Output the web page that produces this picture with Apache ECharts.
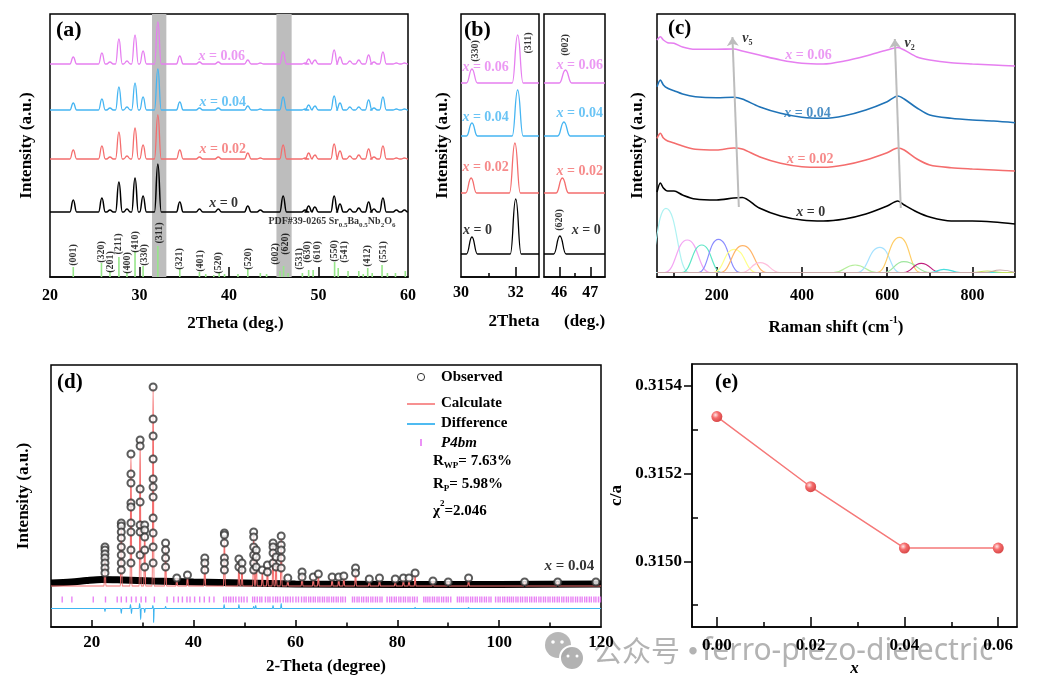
<!DOCTYPE html>
<html>
<head>
<meta charset="utf-8">
<script src="https://cdn.jsdelivr.net/npm/echarts@6/dist/echarts.min.js"></script>
<style>html,body{margin:0;padding:0;background:#fff}#main{width:1038px;height:692px}</style>
</head>
<body>
<div id="main"></div>
<script>
var SERIF = 'Liberation Serif';
var RED = '#f46d6d', SKY = '#45b5f2', PINK = '#e67ff0', DEEPBLUE = '#1f73b7', TICKPINK = '#e363f2';

// ---- (a) XRD patterns, x = 0, 0.02, 0.04, 0.06 ----
var xrdPos = [22.6, 25.8, 26.7, 27.7, 28.6, 29.5, 30.4, 32.05, 34.5, 36.7, 38.8, 42.1, 43.5, 46.05, 48.5, 48.9, 49.6, 51.75, 52.4, 53.5, 54.5, 55.6, 56.2, 57.2, 58.7, 59.6];
var xrdX0 = [12, 14, 2, 30, 3, 34, 16, 48, 10, 3, 3, 6, 2, 16, 2, 6, 5, 16, 8, 3, 4, 10, 3, 14, 2, 2];
var xrdX2 = [9, 13, 2, 27, 3, 31, 14, 44, 9, 2, 2, 6, 1, 14, 1, 6, 4, 15, 8, 3, 4, 10, 2, 13, 1, 1];
var xrdX4 = [7, 11, 2, 23, 3, 27, 13, 41, 8, 2, 2, 4, 1, 13, 1, 5, 4, 14, 7, 3, 3, 10, 2, 13, 1, 1];
var xrdX6 = [7, 11, 2, 25, 3, 29, 13, 42, 8, 2, 2, 4, 1, 12, 1, 5, 4, 14, 7, 3, 4, 9, 2, 12, 1, 1];
var xrdOffset = [65, 118, 167, 213];
var sampleNames = ['0', '0.02', '0.04', '0.06'];

// PDF#39-0265 reference lines
var refPos = [22.6, 25.75, 26.7, 27.7, 28.6, 29.5, 30.4, 32.05, 34.5, 36.7, 37.4, 38.3, 38.9, 39.5, 41.0, 42.1, 43.5, 44.2, 45.7, 46.1, 46.6, 48.2, 48.9, 49.4, 51.8, 52.2, 53.3, 54.5, 55.0, 55.5, 56.0, 57.1, 57.7, 58.6, 59.7];
var refH = [10, 14, 6, 20, 5, 26, 11, 31, 8, 5, 3, 2, 5, 3, 3, 8, 4, 3, 6, 11, 4, 4, 7, 7, 15, 9, 6, 6, 3, 9, 4, 12, 4, 4, 6];
var hklText = ['(001)', '(320)', '(201)', '(211)', '(400)', '(410)', '(330)', '(311)', '(321)', '(401)', '(520)', '(520)', '(002)', '(620)', '(531)', '(630)', '(610)', '(550)', '(541)', '(412)', '(551)'];
var hklPos = [22.6, 25.8, 26.7, 27.6, 28.6, 29.5, 30.5, 32.2, 34.5, 36.8, 38.8, 42.2, 45.15, 46.3, 47.9, 48.8, 49.9, 51.8, 52.85, 55.5, 57.2];
var hklY = [22, 25, 15, 33, 14, 35, 22, 44, 18, 16, 14, 18, 23, 33, 18, 25, 25, 26, 25, 21, 25];
var shadeBands = [[31.4, 33.0], [45.3, 47.0]];

// ---- (b) enlarged (330)/(311) and (002)/(620) ----
var bOffset = [23, 84, 141, 194];
var b330Pos = [30.4, 30.37, 30.4, 30.4];
var b330H = [17, 15, 13, 14];
var b311Pos = [32.0, 31.97, 32.07, 32.07];
var b311H = [55, 50, 46, 48];
var b620Pos = [46.02, 46.1, 46.15, 46.2];
var b620H = [18, 15, 14, 13];

// ---- (c) Raman spectra ----
var ramanX = [60, 68, 75, 85, 100, 120, 150, 200, 240, 260, 300, 350, 400, 450, 500, 550, 600, 625, 640, 670, 700, 750, 800, 850, 900];
var raman0 = [85, 94, 89, 86, 86, 82, 78, 77, 79, 79.5, 69, 61, 57, 56, 58, 63, 71, 76, 72, 65, 60, 56, 56, 55, 53];
var raman2 = [138.7, 143.7, 139, 136, 134, 131, 127.7, 127, 129, 128, 120.3, 113.7, 110.3, 109.7, 112, 117, 124.3, 129, 127, 118, 112, 109.3, 108, 107, 106];
var raman4 = [190.3, 197, 192, 188.7, 186.3, 183, 180.3, 179.3, 179.7, 178, 170.3, 163.7, 159.7, 158.7, 161.3, 167, 175.3, 181, 178, 169, 162, 158.7, 157, 156, 154.3];
var raman6 = [237, 240.3, 237, 234.3, 233.7, 230, 227.7, 227.7, 228, 226, 222, 217, 213.7, 213, 216, 221, 227, 229.5, 227, 220, 217, 214.3, 213, 212, 211];
// fitted bands of x = 0: [left foot, centre, right foot, top]
var fitPeaks = [[35, 81, 135, 68.7], [78, 131, 184, 37], [118, 165, 212, 32], [157, 204, 255, 37.7], [192, 241, 294, 27.7], [208, 261, 318, 31.3], [259, 302, 349, 14.3], [474, 525, 576, 12], [529, 583, 631, 29.7], [576, 629, 678, 39.7], [592, 639, 702, 15.3], [639, 680, 725, 13.7], [702, 733, 772, 7.7], [800, 835, 870, 6], [830, 865, 900, 7]];
var fitColors = ['#aef2f2', '#f3a6f3', '#5ee6c6', '#8a8cff', '#ffff8a', '#ffb56a', '#ffbfdc', '#b6ee9c', '#a6e2ff', '#ffcd66', '#9fe69f', '#c0207e', '#48dede', '#c4e060', '#c8a8a8'];
var fitBase = 4.5;

// ---- (d) Rietveld refinement, x = 0.04 ----
var obsBackground = [[12, 44], [16, 45], [19, 46.5], [22, 47.5], [26, 47], [32, 46], [40, 45], [50, 44], [60, 43], [80, 42.5], [100, 42.5], [120, 43]];
var obsPeaks = [
  [22.6, [80, 77, 73, 69, 64, 59, 54]], [25.8, [104, 101, 95, 89, 80, 72, 64, 57]],
  [27.7, [173, 153, 144, 124, 120, 104, 95, 77, 64]], [29.5, [187, 181, 138, 125, 102, 95, 72]],
  [30.4, [102, 97, 90, 77, 60]], [32.05, [240, 208, 191, 168, 148, 140, 130, 109, 94, 80, 64]],
  [34.5, [84, 77, 69, 60]], [36.7, [49]], [38.8, [52]], [42.2, [69, 64, 57]],
  [46.05, [94, 92, 84, 69, 64, 57]], [48.9, [68, 60]], [49.5, [64, 57]],
  [51.8, [95, 90, 80, 72, 64, 57]], [52.3, [77, 70, 60]], [53.5, [57]], [54.5, [62, 55]],
  [55.6, [84, 80, 74, 64]], [56.2, [70, 60]], [57.2, [91, 82, 77, 69, 59]], [58.5, [49]],
  [61.3, [55, 50]], [63.5, [50]], [64.5, [53]], [67.2, [50]], [68.5, [50]], [69.5, [51]],
  [71.8, [59, 54]], [74.5, [48]], [76.5, [49]], [79.6, [48]], [81.2, [49]], [82.3, [49]],
  [83.5, [54]], [87, [46]], [90, [45]], [94, [49]], [105, [45]], [111.5, [45]], [119, [45]]
];
var calcPos = [22.6, 25.8, 27.7, 29.5, 30.4, 32.05, 34.5, 36.7, 38.8, 42.2, 46.05, 48.9, 49.5, 51.8, 52.3, 53.5, 54.5, 55.6, 56.2, 57.2, 58.5, 61.3, 63.5, 64.5, 67.2, 68.5, 69.5, 71.8, 74.5, 76.5, 79.6, 81.2, 82.3, 83.5, 87, 90, 94, 105, 111.5];
var calcTop = [79, 102, 172, 186, 100, 240, 82, 49, 51, 67, 92, 66, 63, 94, 76, 56, 61, 82, 69, 89, 48, 54, 49, 52, 49, 49, 50, 57, 47, 48, 47, 48, 48, 52, 46, 45, 48, 45, 45];
var calcBase = 41;
var diffPos = [22.6, 25.8, 27.6, 27.8, 29.4, 29.6, 30.4, 32.0, 32.15, 34.5, 46.0, 48.9, 51.8, 52.2, 55.6, 57.2, 83.5, 94];
var diffDy = [-3, -5, 4, -5, 5, -11, -4, 3, -14, 2, 4, 4, 2, 3, 3, 5, 1, 1];
var diffBase = 18.5;
var braggPos = [14.2, 16.1, 20.3, 22.7, 25.0, 25.8, 26.8, 27.8, 28.7, 29.7, 30.6, 32.3, 34.8, 36.1, 37.0, 37.8, 38.7, 39.3, 40.2, 41.2, 42.1, 43.1, 44.0,
  45.9, 46.4, 46.9, 47.3, 47.8, 48.3, 48.9, 49.4, 49.9, 50.5, 51.6, 52.0, 52.5, 53.0, 53.4, 54.1, 54.6, 55.0, 55.6, 56.1, 56.5, 57.0, 57.6, 58.1, 58.5, 59.0, 59.5,
  60.1, 60.6, 61.2, 61.7, 62.1, 62.6, 63.0, 63.5, 63.9, 64.4, 64.8, 65.3, 65.7, 66.2, 66.6, 67.1, 67.5, 68.0, 68.4, 68.9, 69.3, 69.8,
  71.2, 71.6, 72.1, 72.5, 73.0, 73.4, 73.9, 74.3, 74.8, 75.2, 75.7, 76.1, 76.6, 77.0, 78.0, 78.5, 78.9, 79.4, 79.8, 80.3, 80.7, 81.2, 81.6, 82.1, 82.5, 83.0, 83.4, 83.9,
  85.2, 85.6, 86.0, 86.4, 86.9, 87.3, 87.8, 88.2, 88.7, 89.1, 89.6, 90.0, 90.5, 91.8, 92.2, 92.6, 93.0, 93.5, 93.9, 94.4, 94.8, 95.3, 95.7, 96.2, 96.6, 97.1, 97.5, 98.0, 98.4,
  99.3, 99.8, 100.2, 100.7, 101.1, 101.6, 102.0, 102.4, 102.8, 103.3, 103.7, 104.2, 104.6, 105.1, 105.5, 106.0, 106.4, 106.9, 107.3, 107.8, 108.2, 108.7, 109.1, 109.6, 110.0,
  110.5, 110.9, 111.4, 111.8, 112.3, 112.7, 113.2, 113.6, 114.1, 114.5, 115.0, 115.4, 115.9, 116.3, 116.8, 117.2, 117.7, 118.1, 118.6, 119.0, 119.5, 119.9];
var braggLevel = 27.5;

// ---- (e) c/a ratio ----
var caX = [0, 0.02, 0.04, 0.06];
var caY = [0.31533, 0.31517, 0.31503, 0.31503];

// helpers
function peakLine(x0, x1, base, pos, h, w) {
  var d = [[x0, base]];
  for (var i = 0; i < pos.length; i++) {
    d.push([pos[i] - w, base], [pos[i], base + h[i]], [pos[i] + w, base]);
  }
  d.push([x1, base]);
  return d;
}
function lineSeries(xi, yi, data, color, width, z) {
  return {
    type: 'line', xAxisIndex: xi, yAxisIndex: yi, data: data, symbol: 'none',
    smooth: 0.5, smoothMonotone: 'x', silent: true, z: z || 3,
    lineStyle: { color: color, width: width || 1.2 }
  };
}
function richFor(color, size) {
  return {
    i: { fontStyle: 'italic', fontWeight: 'bold', fontFamily: SERIF, fontSize: size, color: color },
    n: { fontWeight: 'bold', fontFamily: SERIF, fontSize: size, color: color }
  };
}
function sampleText(v) { return '{i|x}{n| = ' + v + '}'; }
function textSeries(xi, yi, items, label) {
  var lab = { show: true, position: 'inside', formatter: function (p) { return p.name; } };
  for (var k in label) lab[k] = label[k];
  return {
    type: 'scatter', xAxisIndex: xi, yAxisIndex: yi, symbolSize: 1, silent: true, z: 6,
    itemStyle: { color: 'rgba(0,0,0,0)' },
    data: items.map(function (t) { return { value: [t[0], t[1]], name: t[2] }; }),
    label: lab
  };
}
function xMain(grid, min, max, labels, ticks, tickLen, labelSize, margin, name, nameGap, namePad) {
  return {
    type: 'value', gridIndex: grid, min: min, max: max, position: 'bottom',
    splitLine: { show: false },
    axisLine: { show: true, onZero: false, lineStyle: { color: '#000', width: 1.5 } },
    axisTick: { show: true, inside: true, length: tickLen, customValues: ticks, lineStyle: { color: '#000', width: 1.5 } },
    axisLabel: { show: true, customValues: labels, margin: margin, color: '#000', fontFamily: SERIF, fontWeight: 'bold', fontSize: labelSize },
    name: name, nameLocation: 'middle', nameGap: nameGap,
    nameTextStyle: { color: '#000', fontFamily: SERIF, fontWeight: 'bold', fontSize: 17, padding: namePad || 0 }
  };
}
function xMinor(grid, min, max, ticks, len) {
  return {
    type: 'value', gridIndex: grid, min: min, max: max, position: 'bottom',
    splitLine: { show: false }, axisLine: { show: false, onZero: false }, axisLabel: { show: false },
    axisTick: { show: true, inside: true, length: len, customValues: ticks, lineStyle: { color: '#000', width: 1.5 } }
  };
}
function yHidden(grid, max, name, nameGap) {
  return {
    type: 'value', gridIndex: grid, min: 0, max: max,
    splitLine: { show: false }, axisLine: { show: false, onZero: false }, axisTick: { show: false }, axisLabel: { show: false },
    name: name, nameLocation: 'middle', nameGap: nameGap,
    nameTextStyle: { color: '#000', fontFamily: SERIF, fontWeight: 'bold', fontSize: 17 }
  };
}

var chart = echarts.init(document.getElementById('main'));
var series = [];
var aColors = ['#000000', RED, SKY, PINK];
var cColors = ['#000000', RED, DEEPBLUE, PINK];

// (a)
series.push({
  type: 'line', xAxisIndex: 0, yAxisIndex: 0, data: [[20, -5]], symbol: 'none', z: 1, silent: true,
  lineStyle: { opacity: 0 },
  markArea: {
    silent: true, itemStyle: { color: '#bdbdbd' },
    data: shadeBands.map(function (b) { return [{ xAxis: b[0] }, { xAxis: b[1] }]; })
  }
});
[xrdX0, xrdX2, xrdX4, xrdX6].forEach(function (h, i) {
  series.push(lineSeries(0, 0, peakLine(20, 60, xrdOffset[i], xrdPos, h, 0.38), aColors[i], i === 0 ? 1.5 : 1.3, 3));
});
series.push({
  type: 'bar', xAxisIndex: 0, yAxisIndex: 0, barWidth: 1.6, silent: true, z: 3,
  itemStyle: { color: '#97e68a' },
  data: refPos.map(function (p, i) { return [p, refH[i]]; })
});
series.push(textSeries(0, 0, hklPos.map(function (p, i) { return [p, hklY[i], hklText[i]]; }),
  { rotate: 90, color: '#000', fontFamily: SERIF, fontWeight: 'bold', fontSize: 10 }));
[[39.4, 74], [39.3, 128], [39.3, 175], [39.2, 221]].forEach(function (p, i) {
  series.push(textSeries(0, 0, [[p[0], p[1], sampleText(sampleNames[i])]], { rich: richFor(aColors[i], 14) }));
});
series.push(textSeries(0, 0, [[51.5, 56, '{m|PDF#39-0265 Sr}{s|0.5}{m|Ba}{s|0.5}{m|Nb}{s|2}{m|O}{s|6}']], {
  rich: {
    m: { fontFamily: SERIF, fontWeight: 'bold', fontSize: 10, lineHeight: 10, verticalAlign: 'top', color: '#000' },
    s: { fontFamily: SERIF, fontWeight: 'bold', fontSize: 7, lineHeight: 7, padding: [6, 0, 0, 0], verticalAlign: 'top', color: '#000' }
  }
}));

// (b)
for (var i = 0; i < 4; i++) {
  series.push(lineSeries(1, 1, peakLine(30, 32.85, bOffset[i], [b330Pos[i], b311Pos[i]], [b330H[i], b311H[i]], 0.2), aColors[i], 1.3, 3));
  series.push(lineSeries(2, 2, peakLine(45.51, 47.47, bOffset[i], [b620Pos[i]], [b620H[i]], 0.2), aColors[i], 1.3, 3));
}
[[30.6, 47], [30.9, 110], [30.9, 160], [30.9, 210]].forEach(function (p, i) {
  series.push(textSeries(1, 1, [[p[0], p[1], sampleText(sampleNames[i])]], { rich: richFor(aColors[i], 14) }));
});
[[46.87, 47], [46.66, 106], [46.66, 164], [46.66, 212]].forEach(function (p, i) {
  series.push(textSeries(2, 2, [[p[0], p[1], sampleText(sampleNames[i])]], { rich: richFor(aColors[i], 14) }));
});
series.push(textSeries(1, 1, [[30.52, 226, '(330)'], [32.48, 234, '(311)']], { rotate: 90, color: '#000', fontFamily: SERIF, fontWeight: 'bold', fontSize: 10 }));
series.push(textSeries(2, 2, [[46.21, 232, '(002)'], [46.02, 57, '(620)']], { rotate: 90, color: '#000', fontFamily: SERIF, fontWeight: 'bold', fontSize: 10 }));

// (c)
fitPeaks.forEach(function (f, i) {
  series.push(lineSeries(4, 3, [[60, fitBase], [f[0], fitBase], [f[1], f[3]], [f[2], fitBase], [900, fitBase]], fitColors[i], 1.2, 2));
});
[raman0, raman2, raman4, raman6].forEach(function (r, i) {
  series.push({
    type: 'line', xAxisIndex: 4, yAxisIndex: 3, symbol: 'none', smooth: 0.3, silent: true, z: 3,
    lineStyle: { color: cColors[i], width: 1.6 },
    data: ramanX.map(function (x, k) { return [x, r[k]]; })
  });
});
series.push({
  type: 'line', xAxisIndex: 4, yAxisIndex: 3, data: [[60, -5]], symbol: 'none', silent: true, z: 4,
  lineStyle: { opacity: 0 },
  markLine: {
    silent: true, symbol: ['none', 'arrow'], symbolSize: 9, label: { show: false },
    lineStyle: { color: '#bdbdbd', width: 2, type: 'solid' },
    data: [[{ coord: [252, 70] }, { coord: [237, 240] }], [{ coord: [632, 69] }, { coord: [618, 238] }]]
  }
});
[[421, 65], [419.5, 118], [413, 164], [415.7, 222]].forEach(function (p, i) {
  series.push(textSeries(4, 3, [[p[0], p[1], sampleText(sampleNames[i])]], { rich: richFor(cColors[i], 14) }));
});
series.push(textSeries(4, 3, [[272, 239, '{v|v}{s|5}'], [653, 234, '{v|v}{s|2}']], {
  rich: {
    v: { fontStyle: 'italic', fontWeight: 'bold', fontFamily: SERIF, fontSize: 14, lineHeight: 14, verticalAlign: 'top', color: '#000' },
    s: { fontWeight: 'bold', fontFamily: SERIF, fontSize: 8, lineHeight: 8, padding: [8, 0, 0, 0], verticalAlign: 'top', color: '#000' }
  }
}));

// (d)
series.push({
  type: 'line', xAxisIndex: 6, yAxisIndex: 4, data: obsBackground, symbol: 'none', smooth: 0.3, silent: true, z: 2,
  lineStyle: { color: '#000', width: 7 }
});
series.push(lineSeries(6, 4, peakLine(12, 120, calcBase, calcPos, calcTop.map(function (t) { return t - calcBase; }), 0.18), RED, 1.1, 4));
var obsData = [];
obsPeaks.forEach(function (p) { p[1].forEach(function (y) { obsData.push([p[0], y]); }); });
series.push({
  type: 'scatter', xAxisIndex: 6, yAxisIndex: 4, data: obsData, symbol: 'emptyCircle', symbolSize: 7, silent: true, z: 5,
  itemStyle: { color: '#333', borderColor: '#333', borderWidth: 1 }
});
series.push(lineSeries(6, 4, peakLine(12, 120, diffBase, diffPos, diffDy, 0.12), '#3cb4f0', 1.1, 3));
series.push({
  type: 'scatter', xAxisIndex: 6, yAxisIndex: 4, symbol: 'rect', symbolSize: [1.4, 6], silent: true, z: 3,
  itemStyle: { color: TICKPINK },
  data: braggPos.map(function (p) { return [p, braggLevel]; })
});
series.push(textSeries(6, 4, [[113.8, 61, sampleText('0.04')]], { rich: richFor('#000', 15) }));

// (e)
series.push({
  type: 'line', xAxisIndex: 8, yAxisIndex: 5, silent: true, z: 3,
  data: caX.map(function (x, k) { return [x, caY[k]]; }),
  symbol: 'circle', symbolSize: 11,
  lineStyle: { color: '#f57878', width: 1.5 },
  itemStyle: {
    color: new echarts.graphic.RadialGradient(0.38, 0.35, 0.65, [
      { offset: 0, color: '#ffe6e6' }, { offset: 0.45, color: '#f56c6c' }, { offset: 1, color: '#d84848' }
    ]),
    borderWidth: 0
  }
});

function gtext(x, y, text, size, extra) {
  var st = { text: text, fill: '#000', font: 'bold ' + size + 'px "' + SERIF + '"', verticalAlign: 'middle', align: 'left' };
  for (var k in extra) st[k] = extra[k];
  return { type: 'text', x: x, y: y, z: 50, silent: true, style: st };
}
var subRich = {
  m: { fontFamily: SERIF, fontWeight: 'bold', fontSize: 15, lineHeight: 15, verticalAlign: 'top', fill: '#000', color: '#000' },
  s: { fontFamily: SERIF, fontWeight: 'bold', fontSize: 9, lineHeight: 9, padding: [8, 0, 0, 0], verticalAlign: 'top', fill: '#000', color: '#000' }
};
var supRich = {
  m: { fontFamily: SERIF, fontWeight: 'bold', fontSize: 15, lineHeight: 15, padding: [4, 0, 0, 0], verticalAlign: 'top', fill: '#000', color: '#000' },
  p: { fontFamily: SERIF, fontWeight: 'bold', fontSize: 9, lineHeight: 9, verticalAlign: 'top', fill: '#000', color: '#000' }
};
var WM = 'rgba(150,150,150,0.72)';

var option = {
  animation: false,
  backgroundColor: '#fff',
  grid: [
    { left: 50, top: 14, width: 358, height: 263, show: true, borderColor: '#000', borderWidth: 1.5, backgroundColor: 'transparent', outerBoundsMode: 'none' },
    { left: 461, top: 14, width: 78, height: 263, show: true, borderColor: '#000', borderWidth: 1.5, backgroundColor: 'transparent', outerBoundsMode: 'none' },
    { left: 544, top: 14, width: 61, height: 263, show: true, borderColor: '#000', borderWidth: 1.5, backgroundColor: 'transparent', outerBoundsMode: 'none' },
    { left: 657, top: 14, width: 358, height: 263, show: true, borderColor: '#000', borderWidth: 1.5, backgroundColor: 'transparent', outerBoundsMode: 'none' },
    { left: 51, top: 365, width: 550, height: 262, show: true, borderColor: '#000', borderWidth: 1.5, backgroundColor: 'transparent', outerBoundsMode: 'none' },
    { left: 692, top: 364, width: 325, height: 263, show: true, borderColor: '#000', borderWidth: 1.5, backgroundColor: 'transparent', outerBoundsMode: 'none' }
  ],
  xAxis: [
    xMain(0, 20, 60, [20, 30, 40, 50, 60], [30, 40, 50], 10, 16, 11, '2Theta (deg.)', 38, [0, 0, 0, 13]),
    xMain(1, 30, 32.85, [30, 32], [32], 10, 16, 8, '2Theta', 36, [0, 0, 0, 28]),
    xMain(2, 45.51, 47.47, [46, 47], [46, 47], 10, 16, 8, '(deg.)', 36, [0, 0, 0, 20]),
    xMinor(2, 45.51, 47.47, [46.5], 4),
    xMain(3, 60, 900, [200, 400, 600, 800], [200, 400, 600, 800], 10, 16, 11, '{m|Raman shift (cm}{p|-1}{m|)}', 38),
    xMinor(3, 60, 900, [100, 300, 500, 700], 4),
    xMain(4, 12, 120, [20, 40, 60, 80, 100, 120], [20, 40, 60, 80, 100], 7, 17, 7, '2-Theta (degree)', 31),
    xMinor(4, 12, 120, [30, 50, 70, 90, 110], 4.5),
    xMain(5, -0.0053, 0.064, [0, 0.02, 0.04, 0.06], [0, 0.02, 0.04, 0.06], 10, 17, 10, 'x', 33),
    xMinor(5, -0.0053, 0.064, [0.01, 0.03, 0.05], 5),
    xMinor(1, 30, 32.85, [31], 4)
  ],
  yAxis: [
    yHidden(0, 263, 'Intensity (a.u.)', 15),
    yHidden(1, 263, 'Intensity (a.u.)', 10),
    yHidden(2, 263, '', 10),
    yHidden(3, 263, 'Intensity (a.u.)', 11),
    yHidden(4, 262, 'Intensity (a.u.)', 19),
    {
      type: 'value', gridIndex: 5, min: 0.31485, max: 0.31545, position: 'left',
      splitLine: { show: false },
      axisLine: { show: true, onZero: false, lineStyle: { color: '#000', width: 1.5 } },
      axisTick: { show: true, inside: false, length: 8, customValues: [0.315, 0.3152, 0.3154], lineStyle: { color: '#000', width: 1.5 } },
      axisLabel: { show: true, customValues: [0.315, 0.3152, 0.3154], margin: 10, color: '#000', fontFamily: SERIF, fontWeight: 'bold', fontSize: 17,
        formatter: function (v) { return Number(v).toFixed(4); } },
      name: 'c/a', nameLocation: 'middle', nameGap: 67,
      nameTextStyle: { color: '#000', fontFamily: SERIF, fontWeight: 'bold', fontSize: 17 }
    },
    {
      type: 'value', gridIndex: 5, min: 0.31485, max: 0.31545, position: 'left',
      splitLine: { show: false }, axisLine: { show: false, onZero: false }, axisLabel: { show: false },
      axisTick: { show: true, inside: true, length: 6, customValues: [0.3149, 0.3151, 0.3153], lineStyle: { color: '#000', width: 1.5 } }
    }
  ],
  series: series,
  graphic: [
    {
      type: 'group', z: -1, silent: true,
      children: [
        { type: 'circle', shape: { cx: 558, cy: 645, r: 13 }, style: { fill: 'rgba(170,170,170,0.85)' } },
        { type: 'circle', shape: { cx: 572, cy: 658, r: 12 }, style: { fill: 'rgba(170,170,170,0.9)', stroke: '#fff', lineWidth: 2 } },
        { type: 'circle', shape: { cx: 553, cy: 642, r: 1.8 }, style: { fill: '#fff' } },
        { type: 'circle', shape: { cx: 562, cy: 642, r: 1.8 }, style: { fill: '#fff' } },
        { type: 'circle', shape: { cx: 568, cy: 656, r: 1.5 }, style: { fill: '#fff' } },
        { type: 'circle', shape: { cx: 577, cy: 656, r: 1.5 }, style: { fill: '#fff' } },
        { type: 'text', x: 593, y: 651, style: { text: '\u516c\u4f17\u53f7', font: '29px "Noto Sans CJK SC"', fill: WM, verticalAlign: 'middle', align: 'left' } },
        { type: 'text', x: 693, y: 651, style: { text: '\u00b7', font: 'bold 29px "Noto Sans CJK SC"', fill: WM, verticalAlign: 'middle', align: 'center' } },
        { type: 'text', x: 702, y: 651, style: { text: 'ferro-piezo-dielectric', font: '30px "Noto Sans"', fill: WM, verticalAlign: 'middle', align: 'left' } }
      ]
    },
    gtext(56, 30, '(a)', 22), gtext(464, 30, '(b)', 22), gtext(668, 29, '(c)', 21),
    gtext(57, 383, '(d)', 21), gtext(715, 383, '(e)', 21),
    { type: 'circle', z: 50, silent: true, shape: { cx: 421, cy: 377, r: 3.6 }, style: { fill: 'none', stroke: '#333', lineWidth: 1 } },
    gtext(441, 377, 'Observed', 15),
    { type: 'line', z: 50, silent: true, shape: { x1: 407, y1: 404, x2: 435, y2: 404 }, style: { stroke: RED, lineWidth: 1.5 } },
    gtext(441, 403, 'Calculate', 15),
    { type: 'line', z: 50, silent: true, shape: { x1: 407, y1: 424, x2: 435, y2: 424 }, style: { stroke: '#3cb4f0', lineWidth: 1.8 } },
    gtext(441, 423, 'Difference', 15),
    { type: 'rect', z: 50, silent: true, shape: { x: 420.3, y: 439, width: 1.4, height: 7 }, style: { fill: TICKPINK } },
    gtext(441, 443, 'P4bm', 15, { font: 'italic bold 15px "Liberation Serif"' }),
    gtext(433, 461, '{m|R}{s|WP}{m|= 7.63%}', 15, { rich: subRich, verticalAlign: 'middle' }),
    gtext(433, 484, '{m|R}{s|P}{m|= 5.98%}', 15, { rich: subRich, verticalAlign: 'middle' }),
    gtext(433, 507, '{m|\u03c7}{p|2}{m|=2.046}', 15, { rich: supRich, verticalAlign: 'middle' })
  ]
};
// rich styles for the Raman axis name
option.xAxis[4].nameTextStyle.rich = {
  m: { fontFamily: SERIF, fontWeight: 'bold', fontSize: 17, lineHeight: 17, padding: [4, 0, 0, 0], verticalAlign: 'top', color: '#000' },
  p: { fontFamily: SERIF, fontWeight: 'bold', fontSize: 10, lineHeight: 10, verticalAlign: 'top', color: '#000' }
};
option.xAxis[8].nameTextStyle.fontStyle = 'italic';
option.xAxis[8].axisLabel.formatter = function (v) { return Number(v).toFixed(2); };

chart.setOption(option);
window.addEventListener('resize', function () {
  chart.resize();
});
</script>
</body>
</html>
